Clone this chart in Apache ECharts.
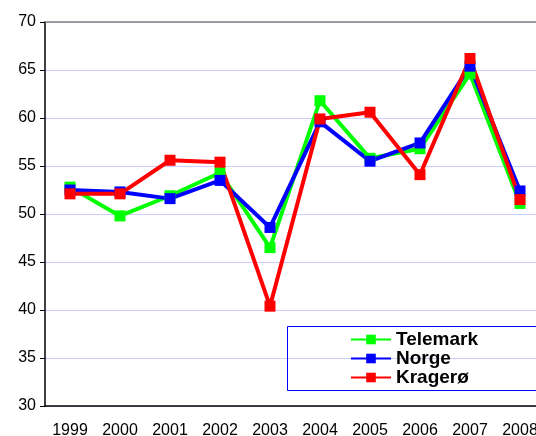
<!DOCTYPE html>
<html>
<head>
<meta charset="utf-8">
<script src="https://cdn.jsdelivr.net/npm/echarts@6/dist/echarts.min.js"></script>
<style>html,body{margin:0;padding:0;background:#fff}#c{width:536px;height:436px}</style>
</head>
<body>
<div id="c"></div>
<script>
const years = ['1999','2000','2001','2002','2003','2004','2005','2006','2007','2008'];
const telemark = [52.8, 49.8, 51.9, 54.3, 46.5, 61.8, 55.8, 56.8, 64.6, 51.1];
const norge    = [52.5, 52.3, 51.6, 53.5, 48.6, 59.6, 55.5, 57.4, 65.4, 52.4];
const kragero  = [52.1, 52.1, 55.6, 55.4, 40.4, 59.9, 60.6, 54.1, 66.2, 51.5];
const yTicks = [30, 35, 40, 45, 50, 55, 60, 65, 70];

const font = 'Liberation Sans, Arial, sans-serif';
function mk(name, data, color) {
  return {
    name, type: 'line', data,
    symbol: 'rect', symbolSize: 11,
    lineStyle: { color, width: 4 },
    itemStyle: { color },
    animation: false
  };
}
const chart = echarts.init(document.getElementById('c'));
chart.setOption({
  animation: false,
  grid: { left: 45, width: 500, top: 22, height: 384, outerBoundsMode: 'none', containLabel: false },
  xAxis: {
    type: 'category', data: years, boundaryGap: true,
    axisLine: { lineStyle: { color: '#000', width: 1.5 } },
    axisTick: { length: 5, lineStyle: { color: '#000' } },
    axisLabel: { color: '#000', fontSize: 16, fontFamily: font, margin: 17 }
  },
  yAxis: {
    type: 'value', min: yTicks[0], max: yTicks[yTicks.length - 1], interval: 5,
    axisLine: { show: true, lineStyle: { color: '#000', width: 1.5 } },
    axisTick: { show: true, length: 5, lineStyle: { color: '#000' } },
    axisLabel: { color: '#000', fontSize: 16, fontFamily: font, margin: 9 },
    splitLine: { lineStyle: { color: '#ccccff', width: 1 } }
  },
  legend: {
    orient: 'vertical', left: 345, top: 325,
    itemWidth: 40, itemHeight: 12, itemGap: 0,
    textStyle: { fontSize: 19, fontWeight: 'bold', color: '#000', fontFamily: font, lineHeight: 19 },
    data: ['Telemark', 'Norge', 'Kragerø']
  },
  graphic: [
    { type: 'line', z: 100, shape: { x1: 45, y1: 22, x2: 536, y2: 22 }, style: { stroke: '#808080', lineWidth: 1.5 } },
    { type: 'rect', z: 100, shape: { x: 287.5, y: 326.5, width: 260, height: 64 }, style: { fill: null, stroke: '#0000ff', lineWidth: 1 } }
  ],
  series: [
    mk('Telemark', telemark, '#00ff00'),
    mk('Norge', norge, '#0000ff'),
    mk('Kragerø', kragero, '#ff0000')
  ]
});
</script>
</body>
</html>
